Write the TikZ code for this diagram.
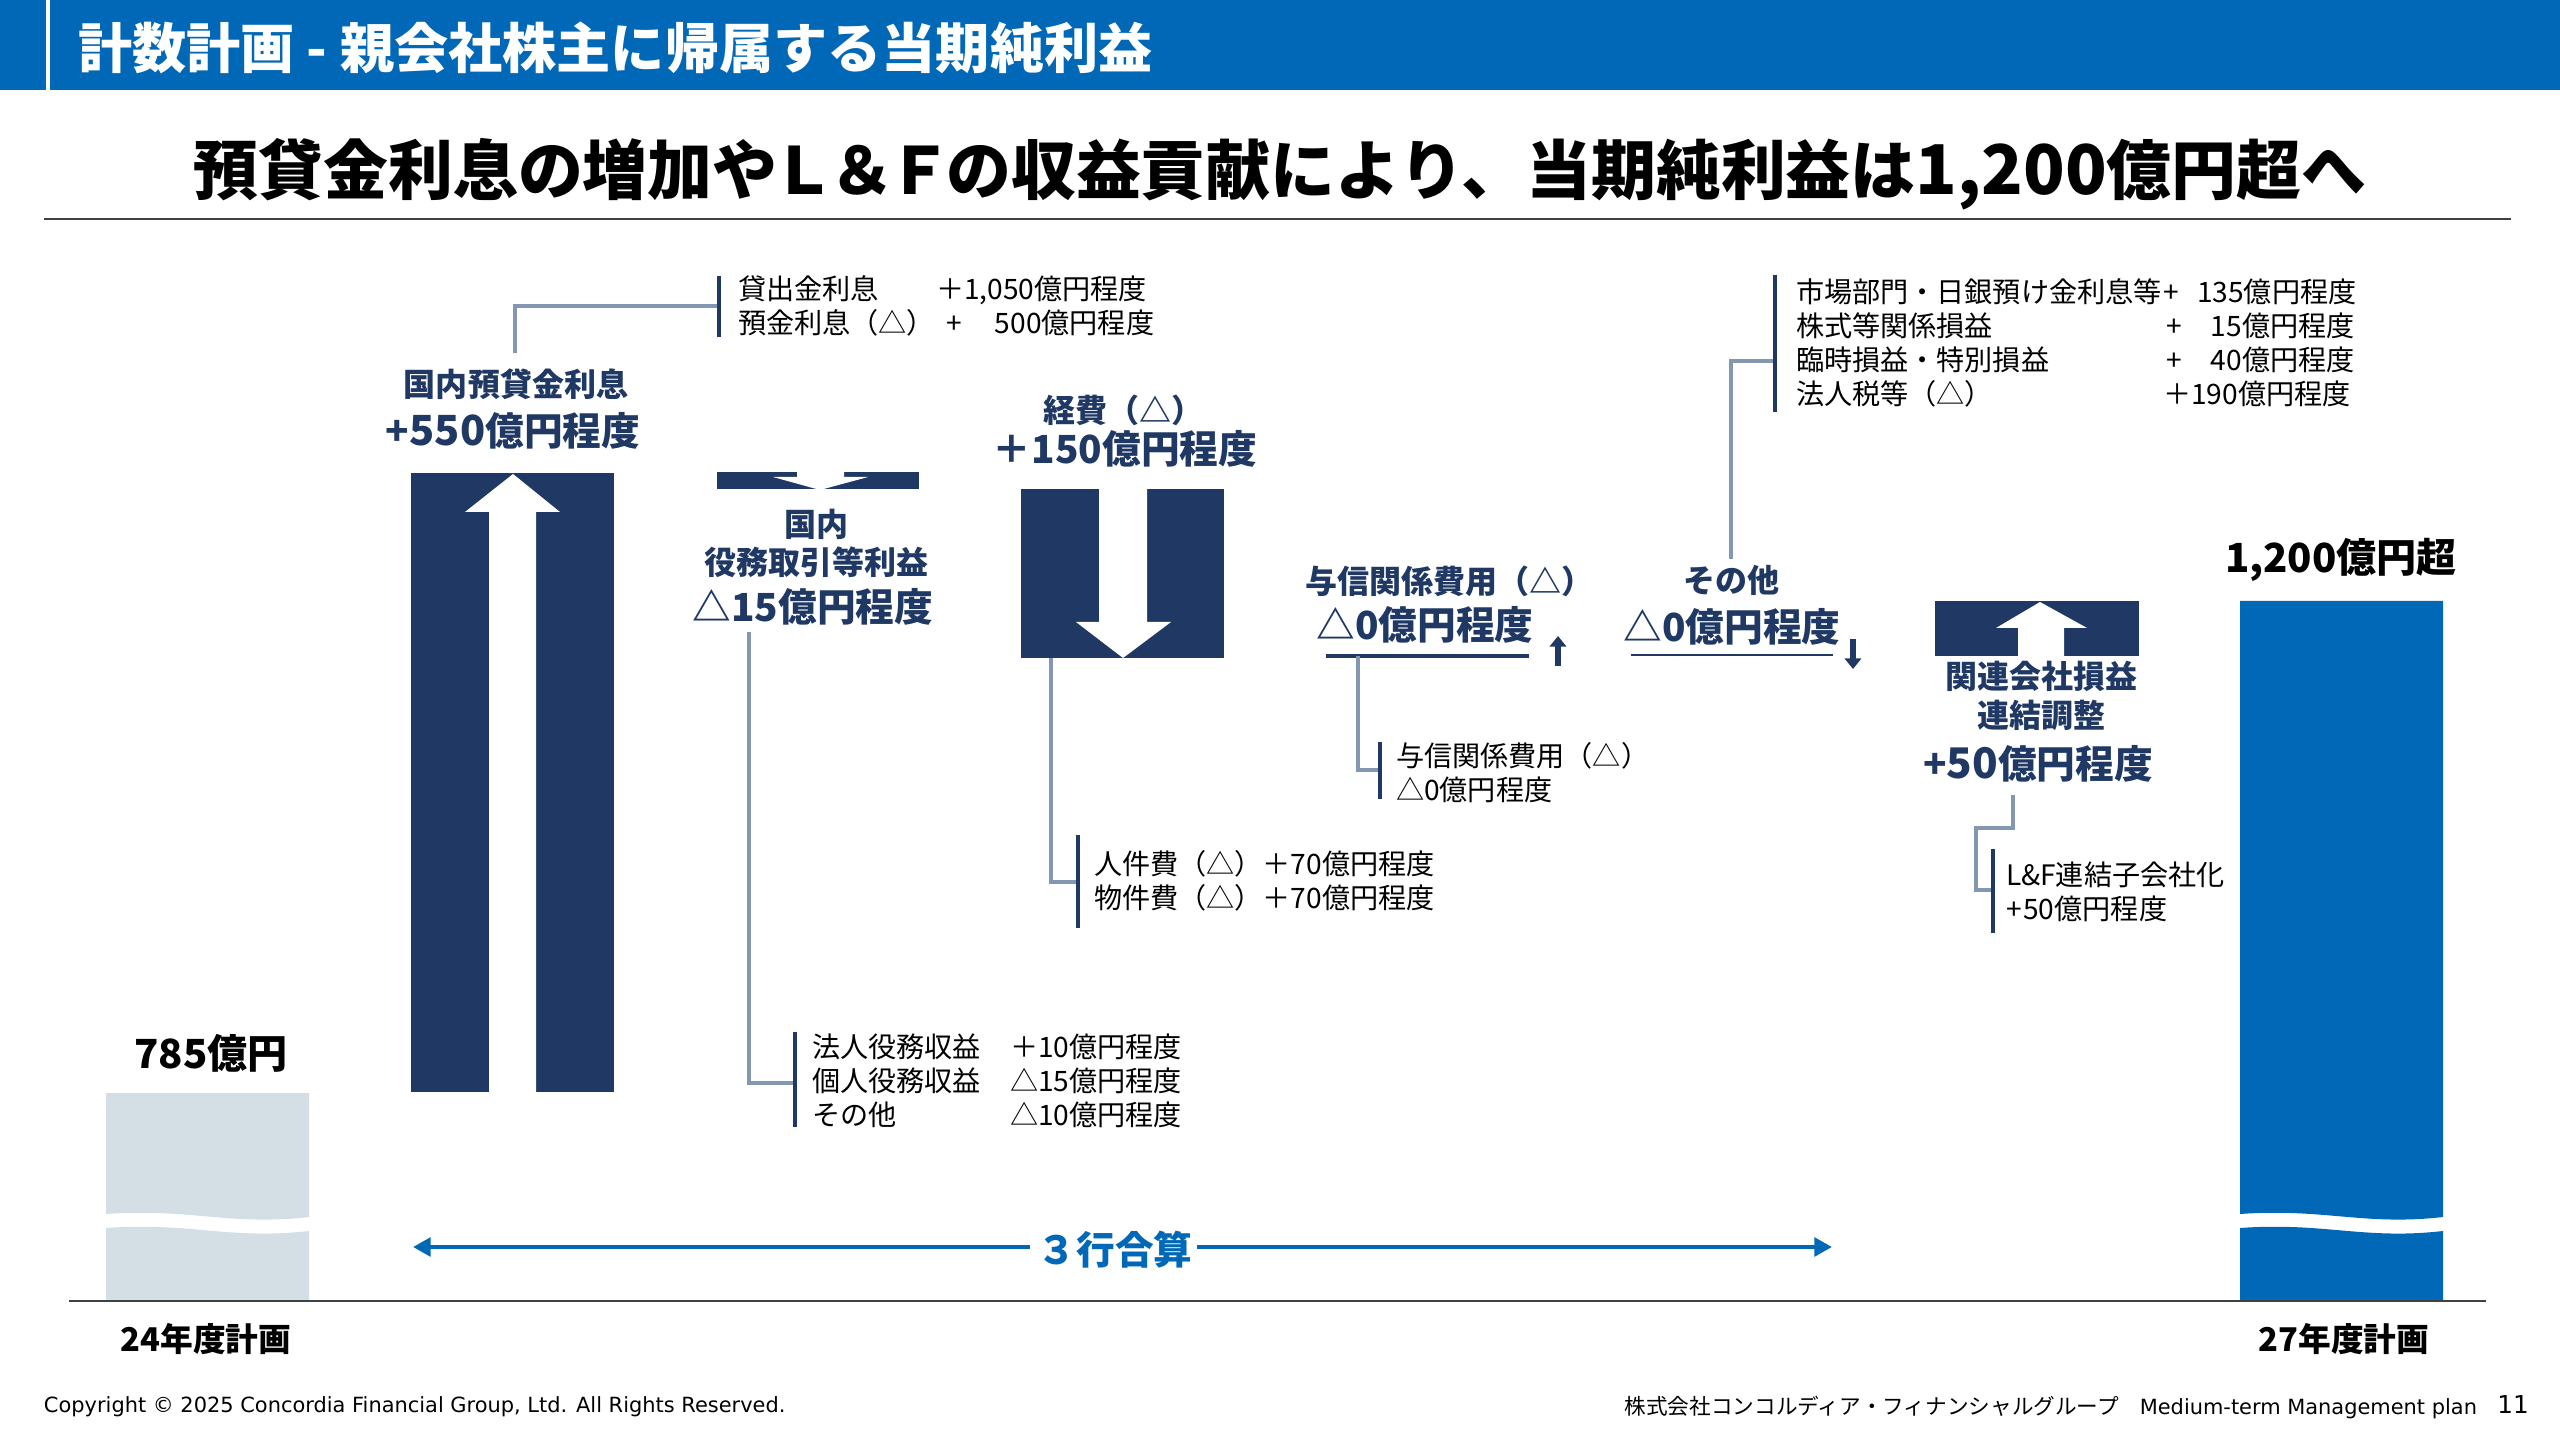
\documentclass[tikz,border=0pt]{standalone}
\usepackage{fontspec}
\setmainfont{Noto Sans CJK JP}
\newfontfamily\footfont{DejaVu Sans}
\usetikzlibrary{calc}
\usetikzlibrary{arrows.meta}
\usetikzlibrary{positioning}
\definecolor{headblue}{RGB}{0, 104, 183}
\definecolor{barnavy}{RGB}{31, 56, 100}
\definecolor{leadgray}{RGB}{132, 151, 176}
\definecolor{palebar}{RGB}{211, 222, 229}
\definecolor{baseink}{RGB}{64, 64, 64}
\tikzset{
    every node/.style={inner sep=0pt, outer sep=0pt},
    navybar/.style={fill=barnavy, anchor=north west},
    leader/.style={leadgray, line width=1.0pt},
    bracket/.style={barnavy, line width=1.3pt},
    listtext/.style={anchor=west, align=left, font={\fontsize{8}{9.67}\selectfont}},
    headline/.style={text=barnavy, align=center, font={\bfseries\fontsize{9.1}{11}\selectfont}},
    amount/.style={text=barnavy, font={\bfseries\fontsize{11}{13}\selectfont}},
    yeartext/.style={font={\bfseries\fontsize{9.3}{12}\selectfont}},
    totaltext/.style={font={\bfseries\fontsize{11.4}{13}\selectfont}},
    foottext/.style={font={\footfont\fontsize{5.95}{8}\selectfont}},
    trendarrow/.style={-{Triangle[length=3pt,width=4.6pt]}, barnavy, line width=1.6pt},
    spanarrow/.style={-{Triangle[length=5pt,width=5.2pt]}, headblue, line width=1.4pt},
}
\begin{document}
\begin{tikzpicture}[x=0.01cm, y=-0.01cm]
    % Frame to fix the page
    \useasboundingbox (0,0) rectangle (2560,1440);
    \fill[white] (0,0) rectangle (2560,1440);
    % Title band
    \fill[headblue] (0,0) rectangle (2560,90);
    \fill[white] (46,0) rectangle (50,90);
    \node[anchor=west, text=white, font={\bfseries\fontsize{15.4}{18}\selectfont}] (pagehead) at (78,48) {計数計画 - 親会社株主に帰属する当期純利益};
    \node[font={\bfseries\fontsize{18.45}{22}\selectfont}] (pagetitle) at (1280,174) {預貸金利息の増加や\hspace{-0.1em}Ｌ\hspace{-0.1em}＆\hspace{-0.1em}Ｆ\hspace{-0.1em}の収益貢献により、当期純利益は{\fontsize{19.5}{22}\selectfont 1,200}億円超へ};
    \draw[baseink, line width=0.5pt] (44,219) -- (2511,219);
    % 24 plan
    \fill[palebar] (106,1093) -- (309,1093) -- (309,1217) .. controls (230,1226) and (190,1208) .. (106,1214) -- cycle;
    \fill[palebar] (106,1228) .. controls (190,1222) and (230,1240) .. (309,1231) -- (309,1300) -- (106,1300) -- cycle;
    \node[totaltext] (startvalue) at (211,1053) {785億円};
    \node[yeartext] (startyear) at (206,1339) {24年度計画};
    % 27 plan
    \fill[headblue] (2240,601) -- (2443,601) -- (2443,1217) .. controls (2364,1226) and (2324,1208) .. (2240,1214) -- cycle;
    \fill[headblue] (2240,1228) .. controls (2324,1222) and (2364,1240) .. (2443,1231) -- (2443,1300) -- (2240,1300) -- cycle;
    \node[totaltext] (endvalue) at (2341,560) {1,200億円超};
    \node[yeartext] (endyear) at (2344,1339) {27年度計画};
    % Base line
    \draw[baseink, line width=0.5pt] (69,1301) -- (2486,1301);
    % Deposit and loan interest
    \node[navybar, minimum width=2.03cm, minimum height=6.19cm] (loanbar) at (411,473) {};
    \fill[white] (513,474) -- (560,512) -- (536,512) -- (536,1092) -- (489,1092) -- (489,512) -- (465,512) -- cycle;
    \node[headline] (loanhead) at (516,384) {国内預貸金利息};
    \node[amount] (loanvalue) at (513,431) {+{\fontsize{11.8}{13}\selectfont 550}億円程度};
    \coordinate (loanleadstart) at (515,353);
    \coordinate (loanleadend) at (719,306);
    \draw[leader] (loanleadstart) |- (loanleadend);
    \draw[bracket] (719,276) -- (719,337);
    \node[listtext] (loannames) at (738,306) {貸出金利息\\預金利息（△）};
    \node[listtext] (loannums) at (936,306) {＋1,050億円程度\\\hspace{3pt}+\hphantom{1,0}\hspace{-3.6pt} 500億円程度};
    % Fee income
    \node[navybar, minimum width=2.02cm, minimum height=0.17cm] (feebar) at (717,472) {};
    \fill[white] (797,472) -- (797,477) -- (773,477) -- (820,490) -- (868,477) -- (844,477) -- (844,472) -- cycle;
    \node[headline, font={\bfseries\fontsize{9.1}{10.8}\selectfont}] (feehead) at (816,543) {国内\\役務取引等利益};
    \node[amount] (feevalue) at (813,607) {△15億円程度};
    \coordinate (feeleadstart) at (749,632);
    \coordinate (feeleadend) at (795,1083);
    \draw[leader] (feeleadstart) |- (feeleadend);
    \draw[bracket] (795,1032) -- (795,1127);
    \node[listtext] (feenames) at (812,1081) {法人役務収益\\個人役務収益\\その他};
    \node[listtext] (feenums) at (1010,1081) {＋10億円程度\\△15億円程度\\△10億円程度};
    % Expenses
    \node[navybar, minimum width=2.03cm, minimum height=1.69cm] (costbar) at (1021,489) {};
    \fill[white] (1099,489) -- (1147,489) -- (1147,622) -- (1171,622) -- (1123,658) -- (1076,622) -- (1099,622) -- cycle;
    \node[headline] (costhead) at (1123,410) {経費（△）};
    \node[amount] (costvalue) at (1125,449) {＋150億円程度};
    \coordinate (costleadstart) at (1051,658);
    \coordinate (costleadend) at (1078,882);
    \draw[leader] (costleadstart) |- (costleadend);
    \draw[bracket] (1078,835) -- (1078,928);
    \node[listtext] (costlist) at (1094,881) {人件費（△）＋70億円程度\\物件費（△）＋70億円程度};
    % Credit costs
    \node[headline] (credithead) at (1449,581) {与信関係費用（△）};
    \node[amount] (creditvalue) at (1425,625) {△0億円程度};
    \coordinate (creditleft) at (1326,656);
    \coordinate (creditright) at (1529,656);
    \draw[barnavy, line width=1pt] (creditleft) -- (creditright);
    \draw[trendarrow] (1558,666) -- (1558,636);
    \coordinate (creditleadstart) at (1358,656);
    \coordinate (creditleadend) at (1380,770);
    \draw[leader] (creditleadstart) |- (creditleadend);
    \draw[bracket] (1380,742) -- (1380,799);
    \node[listtext] (creditlist) at (1396,773) {与信関係費用（△）\\△0億円程度};
    % Others
    \node[headline] (otherhead) at (1731,580) {その他};
    \node[amount] (othervalue) at (1732,627) {△0億円程度};
    \coordinate (otherleft) at (1631,655);
    \coordinate (otherright) at (1833,655);
    \draw[barnavy, line width=0.6pt] (otherleft) -- (otherright);
    \draw[trendarrow] (1853,639) -- (1853,669);
    \coordinate (otherleadstart) at (1731,559);
    \coordinate (otherleadend) at (1775,361);
    \draw[leader] (otherleadstart) |- (otherleadend);
    \draw[bracket] (1775,275) -- (1775,412);
    \node[listtext] (othernames) at (1796,343) {市場部門・日銀預け金利息等\\株式等関係損益\\臨時損益・特別損益\\法人税等（△）};
    \node[listtext] (othernums) at (2163,343) {+\hphantom{1}\hspace{-1pt} 135億円程度\\\hspace{1pt}+\hphantom{11}\hspace{-2.5pt} 15億円程度\\\hspace{1pt}+\hphantom{11}\hspace{-2.5pt} 40億円程度\\＋190億円程度};
    % Affiliates
    \node[navybar, minimum width=2.04cm, minimum height=0.55cm] (affbar) at (1935,601) {};
    \fill[white] (2040,602) -- (2087,628) -- (2064,628) -- (2064,656) -- (2018,656) -- (2018,628) -- (1996,628) -- cycle;
    \node[headline, font={\bfseries\fontsize{9.1}{11.1}\selectfont}] (affhead) at (2041,696) {関連会社損益\\連結調整};
    \node[amount] (affvalue) at (2038,764) {+{\fontsize{12}{13}\selectfont 50}億円程度};
    \coordinate (affleadstart) at (2013,795);
    \coordinate (affleadend) at (1993,890);
    \draw[leader] (affleadstart) -- (2013,828) -- (1976,828) |- (affleadend);
    \draw[bracket] (1993,849) -- (1993,933);
    \node[listtext] (afflist) at (2006,892) {L\&F連結子会社化\\+\hspace{0.5pt}50億円程度};
    % Three banks arrow
    \node[text=headblue, font={\bfseries\fontsize{11}{13}\selectfont}] (threebanks) at (1115,1250) {３行合算};
    \coordinate (threeleft) at (413,1247);
    \coordinate (threeright) at (1832,1247);
    \draw[spanarrow] (1030,1247) -- (threeleft);
    \draw[spanarrow] (1197,1247) -- (threeright);
    % Footer
    \node[foottext, anchor=west] (copyline) at (44,1407) {Copyright © 2025 Concordia Financial Group, Ltd. All Rights Reserved.};
    \node[foottext, anchor=east] (footplan) at (2477,1407) {{\rmfamily\fontsize{6.15}{8}\selectfont 株式会社コンコルディア・フィナンシャルグループ}\hspace{1em}Medium-term Management plan};
    \node[foottext, font={\footfont\fontsize{7}{8}\selectfont}] (pageno) at (2513,1405) {11};
\end{tikzpicture}
\end{document}
